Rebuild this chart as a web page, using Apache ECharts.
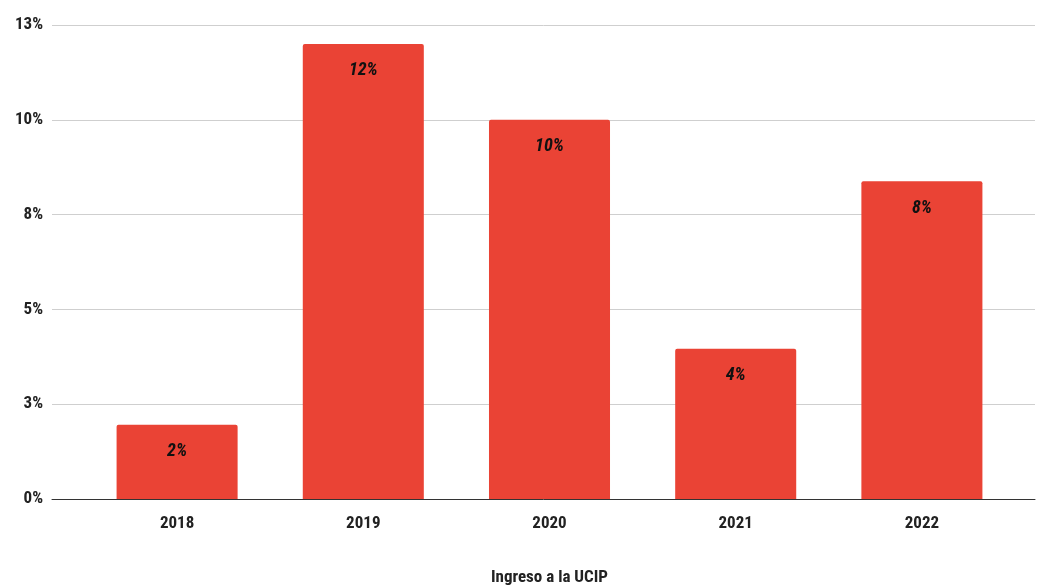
<!DOCTYPE html>
<html>
<head>
<meta charset="utf-8">
<script src="https://cdn.jsdelivr.net/npm/echarts@6/dist/echarts.min.js"></script>
<style>
  html, body { margin: 0; padding: 0; background: #fff; }
  #chart { width: 1037px; height: 586px; }
</style>
</head>
<body>
<div id="chart"></div>
<script>
// datos
const years = ["2018", "2019", "2020", "2021", "2022"];
const ingresos = [1.96, 12.0, 10.0, 3.96, 8.38];
const yTicks = [0, 2.5, 5, 7.5, 10, 12.5];

const font = "'Liberation Sans Narrow', 'Roboto Condensed', Roboto, 'Liberation Sans', Arial, sans-serif";
const yMax = yTicks[yTicks.length - 1];
const yStep = yTicks[1] - yTicks[0];

const chart = echarts.init(document.getElementById("chart"));
chart.setOption({
  animation: false,
  textStyle: { fontFamily: font },
  grid: [
    // rejilla ancha: lineas, eje x y etiquetas del eje y
    { left: 52, right: 2, top: 25, bottom: 87, outerBoundsMode: "none", containLabel: false },
    // rejilla de las barras
    { left: 84, right: 22, top: 25, bottom: 87, outerBoundsMode: "none", containLabel: false }
  ],
  xAxis: [
    {
      gridIndex: 0,
      type: "value",
      min: 0,
      max: 1,
      axisLine: { show: true, lineStyle: { color: "#333", width: 1 } },
      axisTick: { show: false },
      axisLabel: { show: false },
      splitLine: { show: false }
    },
    {
      gridIndex: 1,
      type: "category",
      data: years,
      name: "Ingreso a la UCIP",
      nameLocation: "middle",
      nameGap: 70,
      nameTextStyle: { fontFamily: font, fontWeight: "bold", fontSize: 17, color: "#222" },
      axisLine: { show: false },
      axisTick: { show: false },
      axisLabel: { fontFamily: font, fontWeight: "bold", fontSize: 17, color: "#222", margin: 16 }
    }
  ],
  yAxis: [
    {
      gridIndex: 0,
      type: "value",
      min: 0,
      max: yMax,
      interval: yStep,
      axisLine: { show: false },
      axisTick: { show: false },
      splitLine: { lineStyle: { color: "#cfcfcf", width: 1 } },
      axisLabel: {
        fontFamily: font,
        fontWeight: "bold",
        fontSize: 17,
        color: "#222",
        margin: 9,
        formatter: v => Math.round(v) + "%"
      }
    },
    { gridIndex: 1, type: "value", min: 0, max: yMax, interval: yStep, show: false }
  ],
  series: [
    {
      type: "bar",
      xAxisIndex: 1,
      yAxisIndex: 1,
      data: ingresos,
      barCategoryGap: "35%",
      itemStyle: { color: "#ea4335", borderRadius: [2, 2, 0, 0] },
      label: {
        show: true,
        position: "insideTop",
        distance: 18,
        fontFamily: font,
        fontWeight: "bold",
        fontStyle: "italic",
        fontSize: 18,
        color: "#111",
        formatter: p => Math.round(p.value) + "%"
      }
    }
  ]
});
</script>
</body>
</html>
